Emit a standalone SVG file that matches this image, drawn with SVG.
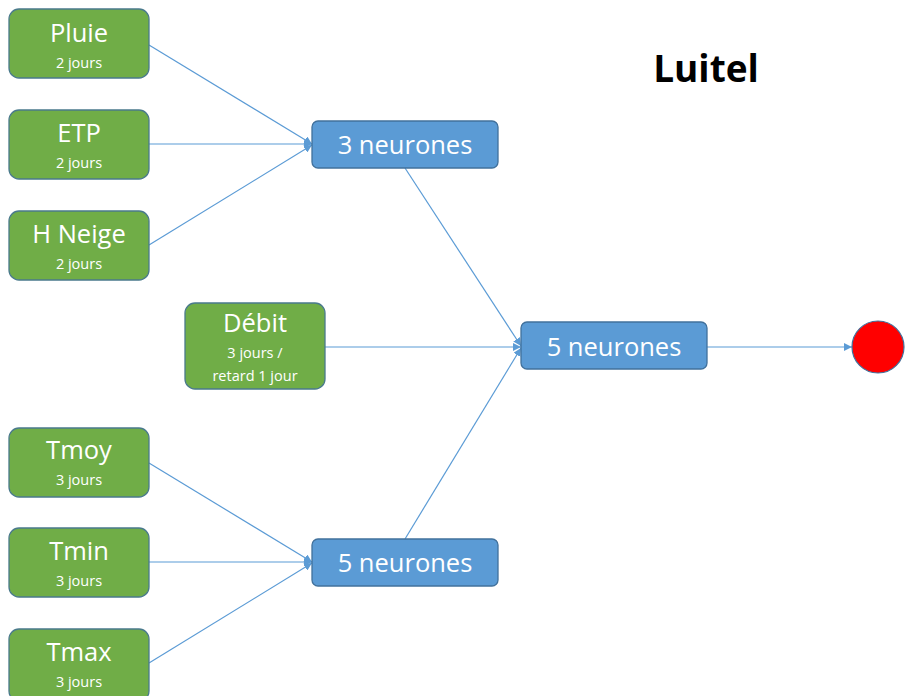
<svg xmlns="http://www.w3.org/2000/svg" width="905" height="696" viewBox="0 0 905 696">
<style>
.g{fill:#70AD47;stroke:#4A7A8C;stroke-width:1.3}
.b{fill:#5B9BD5;stroke:#41719C;stroke-width:1.3}
.t{font-family:"Open Sans","Liberation Sans",sans-serif;fill:#fff;text-anchor:middle}
.big{font-size:25.5px}
.sm{font-size:14.5px}
.nb{font-size:25.5px}
.c{stroke:#5B9BD5;stroke-width:1.2;fill:none;marker-end:url(#a)}
</style>
<defs>
<marker id="a" viewBox="0 0 10 10" refX="10" refY="5" markerWidth="8" markerHeight="8" markerUnits="userSpaceOnUse" orient="auto">
<path d="M0,0 L10,5 L0,10 z" fill="#5B9BD5"/>
</marker>
</defs>
<rect width="905" height="696" fill="#fff"/>
<g id="connectors">
<line class="c" x1="149" y1="45" x2="312" y2="144"/>
<line class="c" x1="149" y1="144" x2="312" y2="144"/>
<line class="c" x1="149" y1="245" x2="312" y2="145"/>
<line class="c" x1="149" y1="463" x2="312" y2="562"/>
<line class="c" x1="149" y1="562" x2="312" y2="562"/>
<line class="c" x1="149" y1="663" x2="312" y2="563"/>
<line class="c" x1="405" y1="168" x2="521" y2="346"/>
<line class="c" x1="325" y1="347" x2="521" y2="347"/>
<line class="c" x1="405" y1="539" x2="521" y2="348"/>
<line class="c" x1="707" y1="347" x2="852" y2="347"/>
</g>
<g id="pluie"><rect class="g" x="9" y="9" width="140" height="69" rx="10"/><text class="t big" x="79" y="42">Pluie</text><text class="t sm" x="79" y="68">2 jours</text></g>
<g id="etp"><rect class="g" x="9" y="110" width="140" height="69" rx="10"/><text class="t big" x="79" y="142">ETP</text><text class="t sm" x="79" y="168">2 jours</text></g>
<g id="hneige"><rect class="g" x="9" y="211" width="140" height="69" rx="10"/><text class="t big" x="79" y="243">H Neige</text><text class="t sm" x="79" y="269">2 jours</text></g>
<g id="debit"><rect class="g" x="185" y="303" width="140" height="86" rx="10"/><text class="t big" x="255" y="332">Débit</text><text class="t sm" x="255" y="358">3 jours /</text><text class="t sm" x="255" y="381">retard 1 jour</text></g>
<g id="tmoy"><rect class="g" x="9" y="428" width="140" height="69" rx="10"/><text class="t big" x="79" y="459">Tmoy</text><text class="t sm" x="79" y="485">3 jours</text></g>
<g id="tmin"><rect class="g" x="9" y="528" width="140" height="69" rx="10"/><text class="t big" x="79" y="560">Tmin</text><text class="t sm" x="79" y="586">3 jours</text></g>
<g id="tmax"><rect class="g" x="9" y="629" width="140" height="72" rx="10"/><text class="t big" x="79" y="661">Tmax</text><text class="t sm" x="79" y="687">3 jours</text></g>
<g id="n3"><rect class="b" x="312" y="121" width="186" height="47" rx="6"/><text class="t nb" x="405" y="154">3 neurones</text></g>
<g id="n5b"><rect class="b" x="312" y="539" width="186" height="47" rx="6"/><text class="t nb" x="405" y="572">5 neurones</text></g>
<g id="n5m"><rect class="b" x="521" y="322" width="186" height="47" rx="6"/><text class="t nb" x="614" y="356">5 neurones</text></g>
<g id="out"><circle cx="878" cy="347" r="26" fill="#FF0000" stroke="#41719C" stroke-width="1.2"/></g>
<text x="706" y="82" font-family="'Open Sans','Liberation Sans',sans-serif" font-weight="bold" font-size="37" text-anchor="middle" fill="#000">Luitel</text>
</svg>
